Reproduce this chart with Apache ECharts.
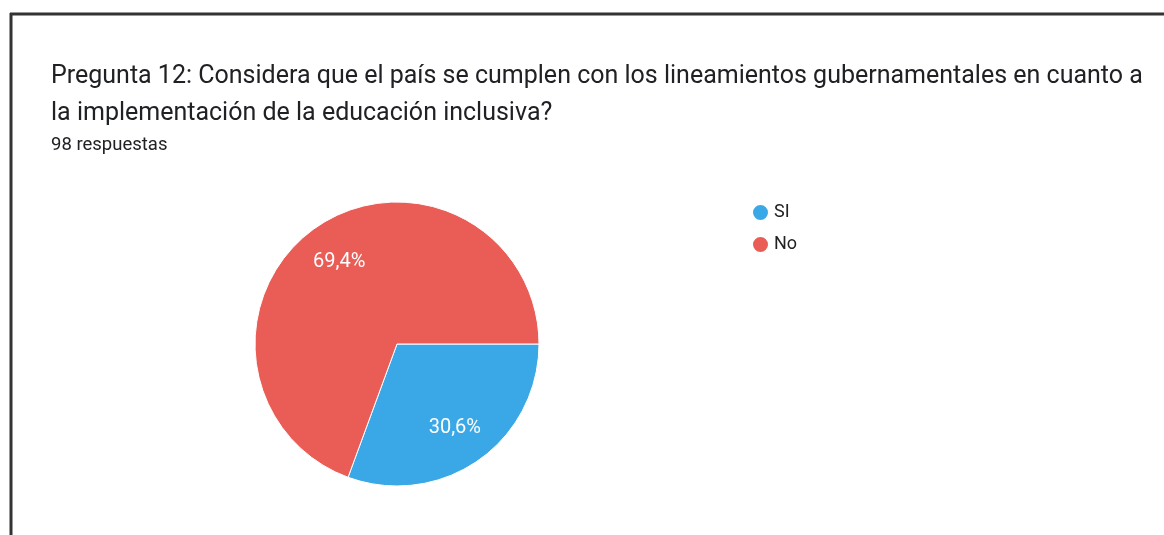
<!DOCTYPE html>
<html>
<head>
<meta charset="utf-8">
<script src="https://cdn.jsdelivr.net/npm/echarts@6/dist/echarts.min.js"></script>
<style>html,body{margin:0;padding:0;background:#fff;}#c{width:1164px;height:535px;}</style>
</head>
<body>
<div id="c"></div>
<script>
const categories = ['SI', 'No'];
const values = [30.6, 69.4];
const labels = ['30,6%', '69,4%'];
const colors = ['#3aa8e6', '#ea5d56'];
const titleText = 'Pregunta 12: Considera que el país se cumplen con los lineamientos gubernamentales en cuanto a\nla implementación de la educación inclusiva?';
const subText = '98 respuestas';

const data = categories.map((n, i) => ({ name: n, value: values[i], itemStyle: { color: colors[i] } }));

const chart = echarts.init(document.getElementById('c'));
chart.setOption({
  animation: false,
  backgroundColor: '#fff',
  title: [
    { text: titleText, left: 46, top: 53, textStyle: { fontFamily: 'Roboto', fontSize: 25, fontWeight: 'normal', color: '#202124', lineHeight: 37 } },
    { text: subText, left: 46, top: 131, textStyle: { fontFamily: 'Roboto', fontSize: 18.5, fontWeight: 'normal', color: '#202124' } }
  ],
  legend: {
    orient: 'vertical', left: 746, top: 198,
    icon: 'circle', itemWidth: 17, itemHeight: 17, itemGap: 13,
    data: categories,
    textStyle: { fontFamily: 'Roboto', fontSize: 18, color: '#222' }
  },
  graphic: [
    { type: 'line', shape: { x1: 10, y1: 14, x2: 1164, y2: 14 }, style: { stroke: '#333', lineWidth: 3 } },
    { type: 'line', shape: { x1: 11, y1: 13, x2: 11, y2: 535 }, style: { stroke: '#333', lineWidth: 3 } }
  ],
  series: [
    {
      type: 'pie', center: [397, 344], radius: [0, 142], startAngle: 0, clockwise: true,
      label: { show: false }, labelLine: { show: false },
      itemStyle: { borderColor: '#fff', borderWidth: 1 },
      data: data
    },
    {
      type: 'pie', center: [397, 345], radius: [54, 142], startAngle: 0, clockwise: true, silent: true,
      label: { show: true, position: 'inside', color: '#fff', fontFamily: 'Roboto', fontSize: 20 },
      labelLine: { show: false },
      itemStyle: { color: 'rgba(0,0,0,0)' },
      data: categories.map((n, i) => ({ name: n, value: values[i], label: { formatter: labels[i] } }))
    }
  ]
});
</script>
</body>
</html>
